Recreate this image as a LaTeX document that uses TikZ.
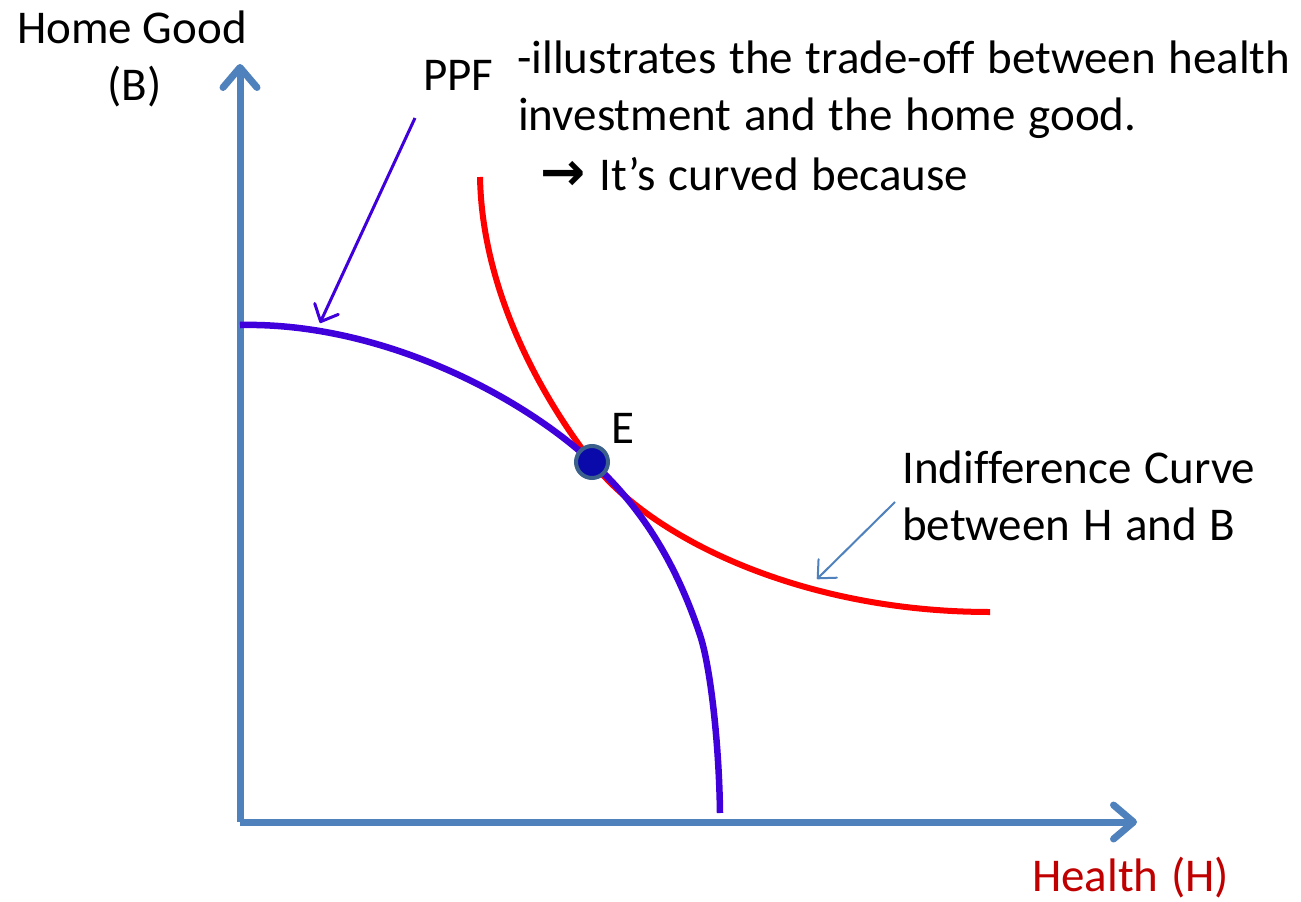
\documentclass[tikz,border=0pt]{standalone}
\usepackage{fontspec}
\setmainfont{Carlito}[Ligatures=CommonOff]
\newfontfamily\arrowfont{DejaVu Sans}
\usetikzlibrary{arrows.meta}
\definecolor{axisblue}{RGB}{79,129,189}
\definecolor{ppfblue}{RGB}{64,0,220}
\definecolor{icred}{RGB}{255,0,0}
\definecolor{labred}{RGB}{192,0,0}
\definecolor{eline}{RGB}{60,96,140}
\definecolor{efill}{RGB}{10,10,170}
\tikzset{
  axis/.style={draw=axisblue, line width=7pt, -{Straight Barb[length=20pt,width=34pt,round]}},
  ppfcurve/.style={draw=ppfblue, line width=6.5pt},
  iccurve/.style={draw=icred, line width=6pt},
  txt/.style={inner sep=0pt, anchor=base west, font=\fontsize{47}{57}\selectfont},
  ptr/.style={-{Straight Barb[length=14pt,width=26pt,round]}},
}
\begin{document}
\begin{tikzpicture}[x=1pt,y=-1pt]
\useasboundingbox[fill=white] (0,0) rectangle (1301,902);
% axes
\coordinate (O) at (240,822);
\coordinate (ytip) at (240,64);
\coordinate (xtip) at (1137,822);
\draw[axis] (O) -- (ytip);
\draw[axis] (O) -- (xtip);
% curves
\draw[iccurve] (480,177) .. controls (482,290) and (540,395) .. (592,462)
  .. controls (650,537) and (800,612) .. (990,612);
\draw[ppfcurve] (240,325) .. controls (380,322) and (520,395) .. (592,462)
  .. controls (640,506) and (675,560) .. (700,635)
  .. controls (710,665) and (719,740) .. (720,813);
% point E
\node[circle, draw=eline, fill=efill, line width=4pt, minimum size=32pt, inner sep=0pt] (E) at (592,462) {};
\node[txt] (elabel) at (611,443) {E};
% labels
\node[txt] (hg) at (17,43) {Home Good};
\node[txt] (hb) at (107,100) {(B)};
\node[txt] (ppf) at (423,90) {PPF};
\node[txt, xscale=1.0] (l1) at (517,73) {-illustrates\hspace{0.27em}the\hspace{0.27em}trade-off\hspace{0.27em}between\hspace{0.27em}health};
\node[txt] (l2) at (518,130) {investment\hspace{0.27em}and\hspace{0.27em}the\hspace{0.27em}home\hspace{0.27em}good.};
\node[txt] (l3) at (540,190) {{\arrowfont\bfseries\fontsize{54}{57}\selectfont →}\hspace{0.3em}It’s\hspace{0.27em}curved\hspace{0.27em}because};
\node[txt] (ic1) at (902,483) {Indifference\hspace{0.27em}Curve};
\node[txt] (ic2) at (902,540) {between\hspace{0.27em}H\hspace{0.27em}and\hspace{0.27em}B};
\node[txt, text=labred] (hh) at (1032,891) {Health\hspace{0.27em}(H)};
% pointers
\coordinate (ppfstart) at (415,118);
\coordinate (ppfend) at (320,323);
\coordinate (icstart) at (895,502);
\coordinate (icend) at (817,579);
\draw[ptr, draw=ppfblue, line width=3pt] (ppfstart) -- (ppfend);
\draw[ptr, draw=axisblue, line width=2pt] (icstart) -- (icend);
\end{tikzpicture}
\end{document}
